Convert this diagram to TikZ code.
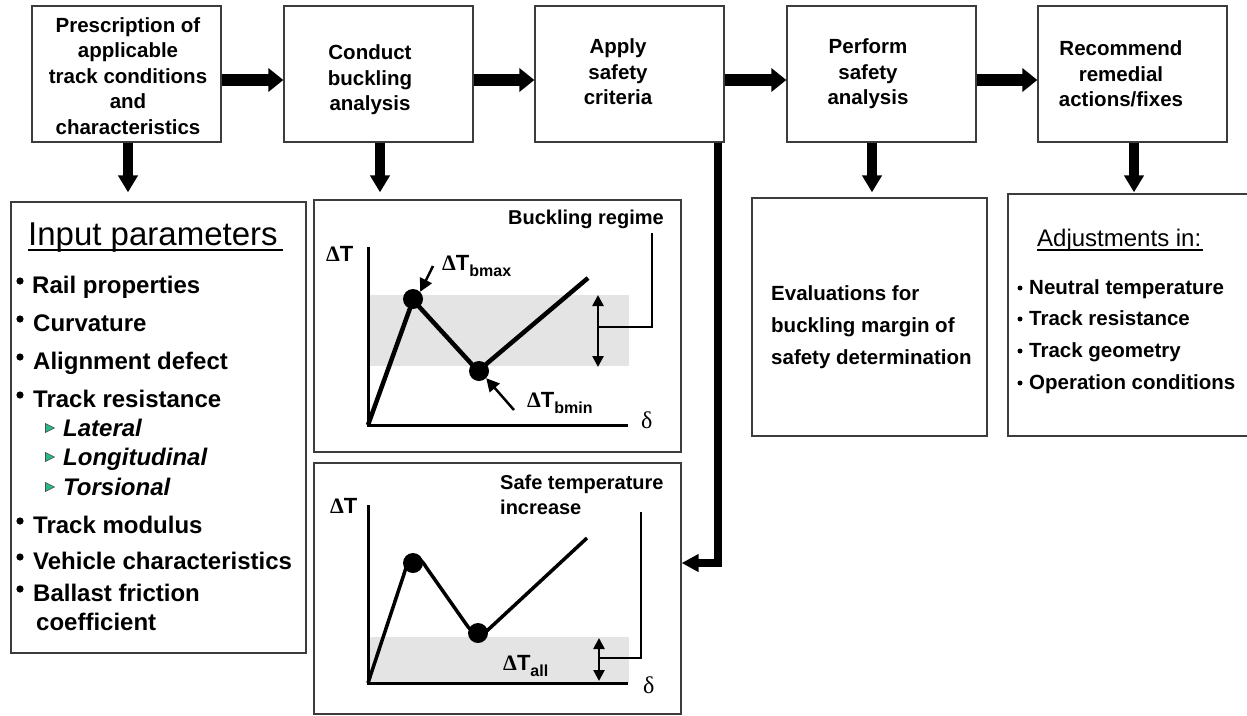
\documentclass[tikz,border=0pt]{standalone}
\usepackage{fontspec}
\setmainfont{Liberation Sans}
\newfontfamily\grk{Liberation Serif}
\usetikzlibrary{arrows.meta,calc}
\definecolor{boxline}{RGB}{60,60,60}
\definecolor{band}{RGB}{228,228,228}
\definecolor{tri}{RGB}{40,185,140}
\begin{document}
\begin{tikzpicture}[x=1pt,y=-1pt,
  box/.style={draw=boxline, line width=1.3pt, inner sep=0pt},
  toptext/.style={align=center, inner sep=0pt, font=\fontsize{20.5}{25.5}\selectfont\bfseries},
  harrow/.style={line width=12pt, -{Triangle[width=23pt,length=15pt]}},
  varrow/.style={line width=10pt, -{Triangle[width=19pt,length=17pt]}},
  item/.style={anchor=base west, inner sep=0pt, font=\fontsize{24}{28}\selectfont\bfseries},
  sitem/.style={anchor=base west, inner sep=0pt, font=\fontsize{24}{28}\selectfont\bfseries\itshape},
  aitem/.style={anchor=base west, inner sep=0pt, font=\fontsize{20.5}{24}\selectfont\bfseries},
  glabel/.style={anchor=base west, inner sep=0pt, font=\fontsize{20}{24}\selectfont\bfseries},
  axis/.style={line width=3pt},
  dbl/.style={line width=2.5pt, {Triangle[width=11pt,length=11pt]}-{Triangle[width=11pt,length=11pt]}},
  ptr/.style={line width=2.5pt, -{Triangle[width=13pt,length=13pt]}},
  dotn/.style={circle, fill=black, inner sep=0pt, minimum size=20pt}
]
\useasboundingbox (0,0) rectangle (1247,715);

% ---------- top row boxes ----------
\node[box, minimum width=189pt, minimum height=136pt] (b1) at (126.5,74) {};
\node[box, minimum width=189pt, minimum height=136pt] (b2) at (378.5,74) {};
\node[box, minimum width=189pt, minimum height=136pt] (b3) at (629.5,74) {};
\node[box, minimum width=189pt, minimum height=136pt] (b4) at (881.5,74) {};
\node[box, minimum width=189pt, minimum height=136pt] (b5) at (1132.5,74) {};

\node[toptext] (t1) at (128,76) {Prescription of\\applicable\\track conditions\\and\\characteristics};
\node[toptext] (t2) at (370,80) {Conduct\\buckling\\analysis};
\node[toptext] (t3) at (618,72) {Apply\\safety\\criteria};
\node[toptext] (t4) at (868,74) {Perform\\safety\\analysis};
\node[toptext] (t5) at (1121,74) {Recommend\\remedial\\actions/fixes};

% horizontal arrows
\draw[harrow] ([yshift=-6pt]b1.east) -- ([yshift=-6pt]b2.west);
\draw[harrow] ([yshift=-6pt]b2.east) -- ([yshift=-6pt]b3.west);
\draw[harrow] ([yshift=-6pt]b3.east) -- ([yshift=-6pt]b4.west);
\draw[harrow] ([yshift=-6pt]b4.east) -- ([yshift=-6pt]b5.west);

% ---------- lower boxes ----------
\node[box, minimum width=295pt, minimum height=451pt] (inp) at (158.5,427.5) {};
\node[box, minimum width=367pt, minimum height=252pt] (g1) at (497.5,326) {};
\node[box, minimum width=367pt, minimum height=251pt] (g2) at (497.5,588.5) {};
\node[box, minimum width=235pt, minimum height=238pt] (ev) at (869.5,317) {};
\node[box, minimum width=242pt, minimum height=242pt] (adj) at (1129,315) {};

% vertical arrows
\draw[varrow, shorten >=9pt] ([xshift=1.5pt]b1.south) -- ([xshift=1.5pt]b1.south |- inp.north);
\draw[varrow, shorten >=7pt] ([xshift=1.5pt]b2.south) -- ([xshift=1.5pt]b2.south |- g1.north);
\draw[varrow, shorten >=5pt] ([xshift=-9.5pt]b4.south) -- ([xshift=-9.5pt]b4.south |- ev.north);
\draw[varrow, shorten >=1pt] ([xshift=1.5pt]b5.south) -- ([xshift=1.5pt]b5.south |- adj.north);

% connector from box 3 to graph 2
\draw[line width=8pt, -{Triangle[width=17pt,length=17pt]}] ([xshift=-7pt]b3.south east) |- ([yshift=25.5pt]g2.east);

% ---------- input parameters ----------
\node[anchor=base west, inner sep=0pt, font=\fontsize{33}{38}\selectfont] (ih) at (28,245) {Input parameters};
\draw[line width=1.6pt] (ih.base west) ++(0,5) -- ++(255,0);
\foreach \yy in {281,319,357,395,521,557,589} \fill (20,\yy) circle[radius=3.6pt];
\node[item] (i1) at (32,293) {Rail properties};
\node[item] (i2) at (33,331) {Curvature};
\node[item] (i3) at (33,369) {Alignment defect};
\node[item] (i4) at (33,407) {Track resistance};
\node[sitem] (s1) at (63,436) {Lateral};
\node[sitem] (s2) at (63,465) {Longitudinal};
\node[sitem] (s3) at (63,495) {Torsional};
\foreach \yy in {428,457,487}
  \filldraw[fill=tri, draw=black!70, line width=0.6pt] (45.5,\yy-4.5) -- (54.5,\yy) -- (45.5,\yy+4.5) -- cycle;
\node[item] (i5) at (33,533) {Track modulus};
\node[item] (i6) at (33,569) {Vehicle characteristics};
\node[item] (i7) at (33,601) {Ballast friction};
\node[item] (i8) at (36,630) {coefficient};

% ---------- graph 1 ----------
\fill[band] (370,295) rectangle (629,366);
\draw[axis] (368,247) -- (368,425) -- (628,425);
\draw[line width=4.5pt, line join=round] (368,425) -- (413,300) -- (478,371) -- (588,278);
\node[dotn] (pk1) at (413,299) {};
\node[dotn] (mn1) at (479,371) {};
\draw[dbl] (598,295) -- (598,367);
\draw[line width=2.5pt] (598,327) -- (652,327) -- (652,233);
\node[glabel, anchor=base east] (br) at (664,224) {Buckling regime};
\node[anchor=base west, inner sep=0pt, font=\fontsize{22}{26}\selectfont\bfseries] (dt1) at (326,261) {{\grk Δ}T};
\node[anchor=base west, inner sep=0pt, font=\fontsize{22}{26}\selectfont\bfseries] (lmax) at (442,270) {{\grk Δ}T\raisebox{-6pt}{\fontsize{16}{18}\selectfont bmax}};
\node[anchor=base west, inner sep=0pt, font=\fontsize{22}{26}\selectfont\bfseries] (lmin) at (527,407) {{\grk Δ}T\raisebox{-6pt}{\fontsize{16}{18}\selectfont bmin}};
\coordinate (a1s) at (433,266);
\coordinate (a2s) at (514,410);
\draw[ptr] (a1s) -- (pk1.north east);
\draw[ptr] (a2s) -- (mn1.south east);
\node[anchor=base west, inner sep=0pt, font=\fontsize{24}{28}\selectfont\grk] (d1) at (641,428) {δ};

% ---------- graph 2 ----------
\fill[band] (370,637) rectangle (629,683);
\draw[axis] (368,505) -- (368,683) -- (628,683);
\draw[line width=3.5pt, line join=round] (368,683) -- (404,574)
  .. controls (409,556) and (418,553) .. (426,567) -- (466,624)
  .. controls (472,634) and (482,637) .. (490,628) -- (587,538);
\node[dotn] (pk2) at (413,563) {};
\node[dotn] (mn2) at (478,633) {};
\draw[dbl] (599,638) -- (599,681);
\draw[line width=2.5pt] (599,658) -- (641,658) -- (641,512);
\node[glabel] (st1) at (500,489) {Safe temperature};
\node[glabel] (st2) at (500,514) {increase};
\node[anchor=base west, inner sep=0pt, font=\fontsize{22}{26}\selectfont\bfseries] (dt2) at (330,513) {{\grk Δ}T};
\node[anchor=base west, inner sep=0pt, font=\fontsize{22}{26}\selectfont\bfseries] (lall) at (503,670) {{\grk Δ}T\raisebox{-6pt}{\fontsize{16}{18}\selectfont all}};
\node[anchor=base west, inner sep=0pt, font=\fontsize{24}{28}\selectfont\grk] (d2) at (643,693) {δ};

% ---------- evaluations ----------
\node[aitem] (e1) at (771,300) {Evaluations for};
\node[aitem] (e2) at (771,332) {buckling margin of};
\node[aitem] (e3) at (771,364) {safety determination};

% ---------- adjustments ----------
\node[anchor=base west, inner sep=0pt, font=\fontsize{24}{28}\selectfont] (ah) at (1037,246) {Adjustments in:};
\draw[line width=1.4pt] (ah.base west) ++(0,4) -- ++(166,0);
\foreach \yy in {288,319,351,383} \fill (1020,\yy) circle[radius=2.5pt];
\node[aitem] (j1) at (1029,294) {Neutral temperature};
\node[aitem] (j2) at (1029,325) {Track resistance};
\node[aitem] (j3) at (1029,357) {Track geometry};
\node[aitem] (j4) at (1029,389) {Operation conditions};
\end{tikzpicture}
\end{document}
